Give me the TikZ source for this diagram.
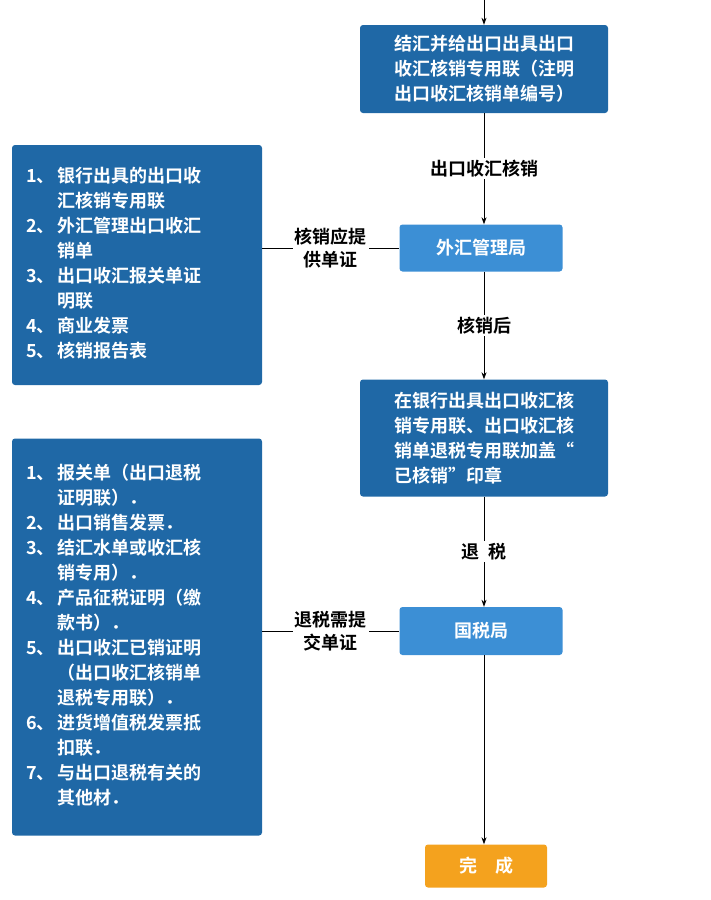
\documentclass[tikz,border=0pt]{standalone}
\usepackage{fontspec}
\newfontfamily\cjk{Noto Sans CJK SC}[BoldFont={Noto Sans CJK SC Bold}]
\usetikzlibrary{arrows.meta}
\definecolor{dk}{HTML}{1F68A6}
\definecolor{lt}{HTML}{3C8FD5}
\definecolor{og}{HTML}{F4A21E}
\tikzset{
  base/.style={rounded corners=3pt,text=white,font=\cjk\bfseries\fontsize{18}{25}\selectfont,inner sep=0pt,align=left},
  dkbox/.style={base,fill=dk},
  ltbox/.style={base,fill=lt,align=center},
  ogbox/.style={base,fill=og,align=center},
  arr/.style={-{Stealth[length=7pt,width=5pt]},line width=0.8pt},
  ln/.style={line width=0.8pt},
  lab/.style={fill=white,font=\cjk\bfseries\fontsize{18}{23}\selectfont,inner sep=2pt,align=center}
}
\begin{document}
\begin{tikzpicture}[x=1pt,y=-1pt]
\useasboundingbox (0,0) rectangle (710,900);
\node[dkbox,minimum width=248pt,minimum height=88pt] (b1) at (484,69) {结汇并给出口出具出口\\收汇核销专用联（注明\\出口收汇核销单编号）};
\node[ltbox,minimum width=163pt,minimum height=47pt] (b2) at (481,248) {外汇管理局};
\node[dkbox,minimum width=248pt,minimum height=117pt] (b3) at (484,438) {在银行出具出口收汇核\\销专用联、出口收汇核\\销单退税专用联加盖“\\已核销”印章};
\node[ltbox,minimum width=163pt,minimum height=48pt] (b4) at (481,631) {国税局};
\node[ogbox,minimum width=122pt,minimum height=43pt] (b5) at (486,866) {完\quad 成};
\node[dkbox,minimum width=250pt,minimum height=240pt,text width=222pt] (l1) at (137,265) {%
\begin{tabular}{@{}l@{\,}l@{}}
1、&银行出具的出口收\\&汇核销专用联\\
2、&外汇管理出口收汇\\&销单\\
3、&出口收汇报关单证\\&明联\\
4、&商业发票\\
5、&核销报告表
\end{tabular}};
\node[dkbox,minimum width=250pt,minimum height=397pt,text width=222pt] (l2) at (137,637) {%
\begin{tabular}{@{}l@{\,}l@{}}
1、&报关单（出口退税\\&证明联）．\\
2、&出口销售发票．\\
3、&结汇水单或收汇核\\&销专用）．\\
4、&产品征税证明（缴\\&款书）．\\
5、&出口收汇已销证明\\&（出口收汇核销单\\&退税专用联）．\\
6、&进货增值税发票抵\\&扣联．\\
7、&与出口退税有关的\\&其他材．
\end{tabular}};
\coordinate (top) at (484,0);
\draw[arr] (top) -- (b1.north);
\draw[arr] (b1.south) -- node[lab]{出口收汇核销} (b1.south |- b2.north);
\draw[arr] (b1.south |- b2.south) -- node[lab]{核销后} (b3.north);
\draw[arr] (b3.south) -- node[lab]{退\ \ 税} (b3.south |- b4.north);
\draw[arr] (b3.south |- b4.south) -- (b3.south |- b5.north);
\draw[ln] (l1.east |- b2.west) -- node[lab]{核销应提\\供单证} (b2.west);
\draw[ln] (l2.east |- b4.west) -- node[lab]{退税需提\\交单证} (b4.west);
\end{tikzpicture}
\end{document}
